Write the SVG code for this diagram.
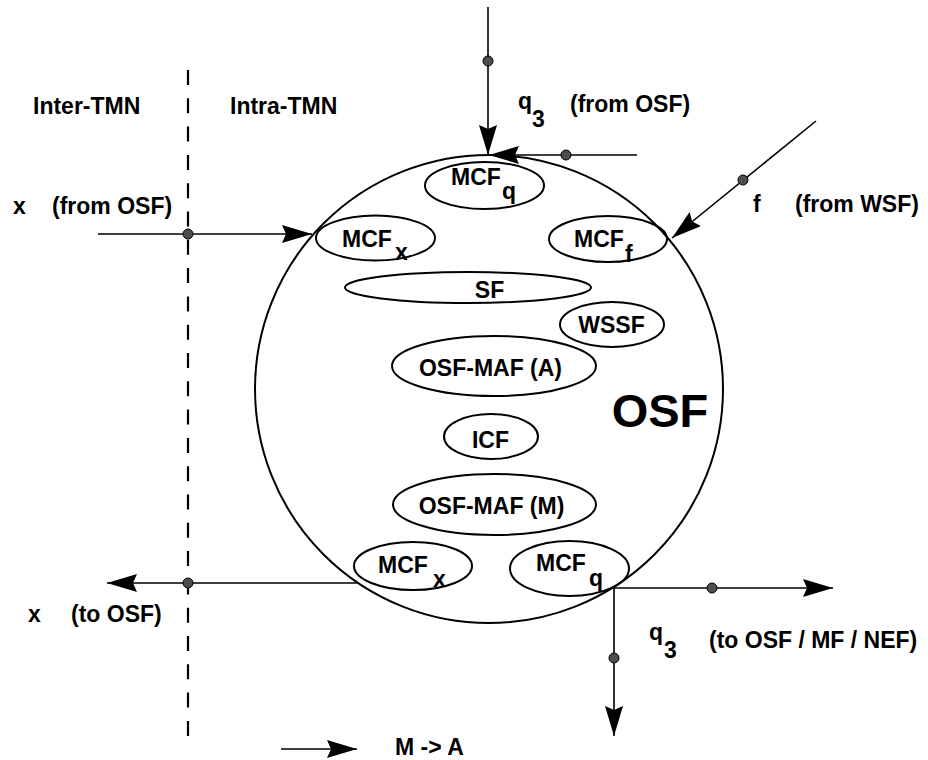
<svg xmlns="http://www.w3.org/2000/svg" width="928" height="760" viewBox="0 0 928 760">
  <style>
    text { font-family: "Liberation Sans", Arial, Helvetica, sans-serif; font-weight: bold; font-size: 23px; fill: #000; }
    .shape { fill: none; stroke: #000; stroke-width: 2; }
    .wire { fill: none; stroke: #000; stroke-width: 1.6; }
    .dot { fill: #4d4d4d; stroke: #000; stroke-width: 1; }
    .mid { text-anchor: middle; }
    .big { font-size: 47px; }
  </style>
  <defs>
    <marker id="arrow" viewBox="0 0 30 18" refX="30" refY="9" markerWidth="30" markerHeight="18" markerUnits="userSpaceOnUse" orient="auto">
      <path d="M0,0 L30,9 L0,18 L4,9 Z" fill="#000"/>
    </marker>
  </defs>

  <rect width="928" height="760" fill="#fff"/>

  <!-- domain boundary -->
  <g id="boundary">
    <line x1="188" y1="70" x2="188" y2="737" stroke="#000" stroke-width="2.2" stroke-dasharray="15 13.3"/>
    <text x="33" y="114">Inter-TMN</text>
    <text x="230" y="114">Intra-TMN</text>
  </g>

  <!-- OSF block -->
  <g id="osf">
    <circle class="shape" cx="489" cy="389" r="234"/>
    <text class="big mid" x="660" y="427">OSF</text>
  </g>

  <g id="mcf-q-in">
    <ellipse class="shape" cx="484.5" cy="185.5" rx="59.5" ry="23.5"/>
    <text x="451" y="185">MCF</text>
    <text x="502" y="199">q</text>
  </g>

  <g id="mcf-x-in">
    <ellipse class="shape" cx="375.5" cy="238" rx="59.5" ry="22.5"/>
    <text x="342" y="247">MCF</text>
    <text x="395" y="260">x</text>
  </g>

  <g id="mcf-f">
    <ellipse class="shape" cx="608" cy="239" rx="59" ry="23"/>
    <text x="574" y="247">MCF</text>
    <text x="625" y="262">f</text>
  </g>

  <g id="sf">
    <ellipse class="shape" cx="468" cy="287.5" rx="123" ry="15.5"/>
    <text class="mid" x="489.5" y="298">SF</text>
  </g>

  <g id="wssf">
    <ellipse class="shape" cx="612" cy="324.5" rx="52" ry="22.5"/>
    <text class="mid" x="611.5" y="333">WSSF</text>
  </g>

  <g id="osf-maf-a">
    <ellipse class="shape" cx="494" cy="366" rx="102" ry="30"/>
    <text class="mid" x="490.5" y="376">OSF-MAF (A)</text>
  </g>

  <g id="icf">
    <ellipse class="shape" cx="491" cy="436.5" rx="47" ry="22.5"/>
    <text class="mid" x="490.5" y="448">ICF</text>
  </g>

  <g id="osf-maf-m">
    <ellipse class="shape" cx="494.5" cy="504.5" rx="101.5" ry="30.5"/>
    <text class="mid" x="491.5" y="514">OSF-MAF (M)</text>
  </g>

  <g id="mcf-x-out">
    <ellipse class="shape" cx="413" cy="566" rx="59" ry="24"/>
    <text x="378" y="573">MCF</text>
    <text x="433" y="587">x</text>
  </g>

  <g id="mcf-q-out">
    <ellipse class="shape" cx="569.5" cy="568.5" rx="59.5" ry="27.5"/>
    <text x="536" y="571">MCF</text>
    <text x="589" y="586">q</text>
  </g>

  <!-- reference point labels -->
  <g id="labels">
    <text x="13" y="214">x</text>
    <text x="52" y="214">(from OSF)</text>

    <text x="518" y="109">q</text>
    <text x="532" y="127">3</text>
    <text x="570" y="112">(from OSF)</text>

    <text x="753" y="212">f</text>
    <text x="795" y="212">(from WSF)</text>

    <text x="28" y="622">x</text>
    <text x="71" y="622">(to OSF)</text>

    <text x="649" y="640">q</text>
    <text x="664" y="658">3</text>
    <text x="709" y="648">(to OSF / MF / NEF)</text>

    <text x="395" y="755">M -&gt; A</text>
  </g>

  <!-- connectors -->
  <g id="connectors">
    <line class="wire" x1="98" y1="234" x2="312" y2="234" marker-end="url(#arrow)"/>
    <circle class="dot" cx="188" cy="234" r="5"/>

    <line class="wire" x1="488" y1="7" x2="488" y2="155" marker-end="url(#arrow)"/>
    <circle class="dot" cx="488" cy="61" r="5"/>

    <line class="wire" x1="637" y1="155" x2="489" y2="155" marker-end="url(#arrow)"/>
    <circle class="dot" cx="566" cy="155" r="5"/>

    <line class="wire" x1="816" y1="121" x2="672" y2="238" marker-end="url(#arrow)"/>
    <circle class="dot" cx="743" cy="180" r="5"/>

    <line class="wire" x1="357" y1="583" x2="107" y2="583" marker-end="url(#arrow)"/>
    <circle class="dot" cx="188" cy="583" r="5"/>

    <line class="wire" x1="614" y1="588" x2="833" y2="588" marker-end="url(#arrow)"/>
    <circle class="dot" cx="712" cy="588" r="5"/>

    <line class="wire" x1="614" y1="588" x2="614" y2="736" marker-end="url(#arrow)"/>
    <circle class="dot" cx="614" cy="658" r="5"/>

    <line class="wire" x1="281" y1="749" x2="357" y2="749" marker-end="url(#arrow)"/>
  </g>
</svg>
